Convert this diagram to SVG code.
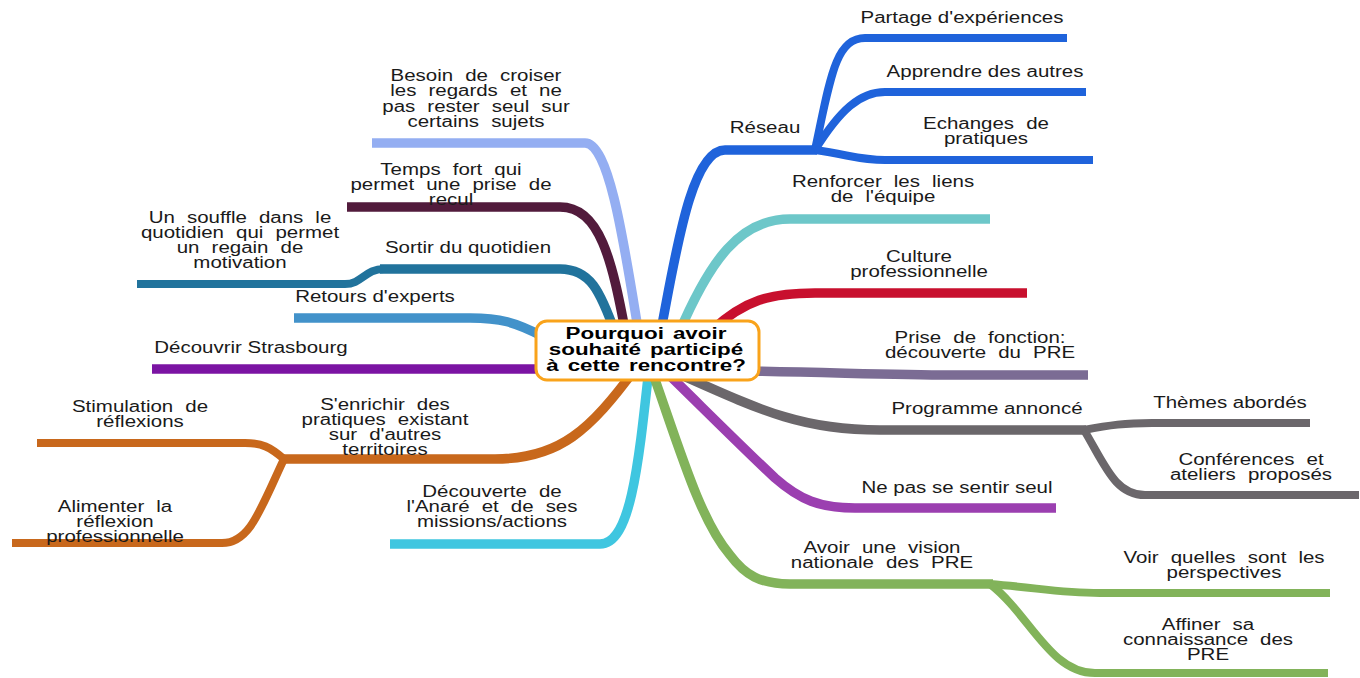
<svg xmlns="http://www.w3.org/2000/svg" width="1360" height="678" viewBox="0 0 1360 678">
<style>
.c{fill:none;stroke-width:9.5;stroke-linecap:butt;stroke-linejoin:round}
.s{stroke-width:8}
.t{font-family:"Liberation Sans",Arial,sans-serif;font-size:16px;fill:#1a1a1a;text-anchor:middle}
.j{word-spacing:5px}
.b{font-weight:bold;fill:#000;word-spacing:2px}
</style>
<rect width="1360" height="678" fill="#fff"/>
<g id="connectors">
<path class="c" stroke="#94AEF2" d="M639,335 C625,250 610,143 585,143 L372,143"/>
<path class="c" stroke="#521B3C" d="M626,335 C612,260 600,207 560,207 L347,207"/>
<path class="c" stroke="#21739C" d="M616,335 C600,290 590,269 560,269 L380,269"/>
<path class="c s" stroke="#21739C" d="M384,269 C365,269 362,284 345,284 L137,284"/>
<path class="c" stroke="#4292CA" d="M542,336 C515,322 500,318 470,318 L294,318"/>
<path class="c" stroke="#7B14A3" d="M542,369 L152,369"/>
<path class="c" stroke="#C8681C" d="M636,368 C590,430 560,459 495,459 L280,459"/>
<path class="c s" stroke="#C8681C" d="M284,459 C270,447 262,443 245,443 L37,443"/>
<path class="c s" stroke="#C8681C" d="M284,459 C260,510 250,543 222,543 L12,543"/>
<path class="c" stroke="#3FC6E0" d="M649,368 C638,470 630,544 600,544 L390,544"/>
<path class="c" stroke="#1F63DB" d="M660,335 C675,260 690,150 725,150 L817,150"/>
<path class="c s" stroke="#1F63DB" d="M815,150 C830,80 835,38 865,38 L1067,38"/>
<path class="c s" stroke="#1F63DB" d="M815,150 C840,110 860,92 885,92 L1086,92"/>
<path class="c s" stroke="#1F63DB" d="M815,150 C850,155 860,160 885,160 L1093,160"/>
<path class="c" stroke="#6DC7C9" d="M678,335 C710,260 740,219 790,219 L990,219"/>
<path class="c" stroke="#C8102E" d="M712,330 C745,300 770,293 815,293 L1027,293"/>
<path class="c" stroke="#7B6C94" d="M750,371 C850,373 900,375 950,375 L1088,375"/>
<path class="c" stroke="#6B676B" d="M670,370 C760,410 800,430 880,430 L1086,430"/>
<path class="c s" stroke="#6B676B" d="M1084,430 C1110,425 1125,423 1152,423 L1310,423"/>
<path class="c s" stroke="#6B676B" d="M1084,430 C1105,465 1115,495 1145,495 L1359,495"/>
<path class="c" stroke="#9B3FB0" d="M662,368 C700,405 745,450 775,478 C800,500 820,508 855,508 L1056,508"/>
<path class="c" stroke="#82B35A" d="M651,368 C680,450 700,520 730,555 C745,575 760,584 790,584 L993,584"/>
<path class="c s" stroke="#82B35A" d="M990,584 C1040,588 1060,593 1100,593 L1330,593"/>
<path class="c s" stroke="#82B35A" d="M990,584 C1030,615 1050,673 1095,673 L1328,673"/>
</g>
<g id="center">
<rect x="536" y="321" width="223" height="59" rx="11" fill="#fff" stroke="#F9A31B" stroke-width="3"/>
<text class="t b" transform="translate(646,339) scale(1.4,1)"><tspan x="0">Pourquoi avoir</tspan><tspan x="0" dy="16">souhaité participé</tspan><tspan x="0" dy="16">à cette rencontre?</tspan></text>
</g>
<g id="n-besoin"><text class="t j" transform="translate(476,81) scale(1.28,1)"><tspan x="0">Besoin de croiser</tspan><tspan x="0" dy="15.3">les regards et ne</tspan><tspan x="0" dy="15.3">pas rester seul sur</tspan><tspan x="0" dy="15.3">certains sujets</tspan></text></g>
<g id="n-temps"><text class="t j" transform="translate(451,175) scale(1.28,1)"><tspan x="0">Temps fort qui</tspan><tspan x="0" dy="15.5">permet une prise de</tspan><tspan x="0" dy="15">recul</tspan></text></g>
<g id="n-souffle"><text class="t j" transform="translate(240,223) scale(1.28,1)"><tspan x="0">Un souffle dans le</tspan><tspan x="0" dy="15.5">quotidien qui permet</tspan><tspan x="0" dy="15">un regain de</tspan><tspan x="0" dy="14.5">motivation</tspan></text></g>
<g id="n-sortir"><text class="t" transform="translate(468,253) scale(1.28,1)">Sortir du quotidien</text></g>
<g id="n-retours"><text class="t" transform="translate(375,302) scale(1.28,1)">Retours d'experts</text></g>
<g id="n-strasbourg"><text class="t" transform="translate(251,353) scale(1.28,1)">Découvrir Strasbourg</text></g>
<g id="n-enrichir"><text class="t j" transform="translate(385,410) scale(1.28,1)"><tspan x="0">S'enrichir des</tspan><tspan x="0" dy="15">pratiques existant</tspan><tspan x="0" dy="15.5">sur d'autres</tspan><tspan x="0" dy="14.5">territoires</tspan></text></g>
<g id="n-stimulation"><text class="t j" transform="translate(140,412) scale(1.28,1)"><tspan x="0">Stimulation de</tspan><tspan x="0" dy="15">réflexions</tspan></text></g>
<g id="n-alimenter"><text class="t j" transform="translate(115,512) scale(1.28,1)"><tspan x="0">Alimenter la</tspan><tspan x="0" dy="15.5">réflexion</tspan><tspan x="0" dy="14.5">professionnelle</tspan></text></g>
<g id="n-anare"><text class="t j" transform="translate(492,497) scale(1.28,1)"><tspan x="0">Découverte de</tspan><tspan x="0" dy="15.5">l'Anaré et de ses</tspan><tspan x="0" dy="15">missions/actions</tspan></text></g>
<g id="n-reseau"><text class="t" transform="translate(765,133) scale(1.28,1)">Réseau</text></g>
<g id="n-partage"><text class="t" transform="translate(962,23) scale(1.28,1)">Partage d'expériences</text></g>
<g id="n-apprendre"><text class="t" transform="translate(985,77) scale(1.28,1)">Apprendre des autres</text></g>
<g id="n-echanges"><text class="t j" transform="translate(986,129) scale(1.28,1)"><tspan x="0">Echanges de</tspan><tspan x="0" dy="14.5">pratiques</tspan></text></g>
<g id="n-renforcer"><text class="t j" transform="translate(883,187) scale(1.28,1)"><tspan x="0">Renforcer les liens</tspan><tspan x="0" dy="15">de l'équipe</tspan></text></g>
<g id="n-culture"><text class="t" transform="translate(919,262) scale(1.28,1)"><tspan x="0">Culture</tspan><tspan x="0" dy="15">professionnelle</tspan></text></g>
<g id="n-prise"><text class="t j" transform="translate(980,343) scale(1.28,1)"><tspan x="0">Prise de fonction:</tspan><tspan x="0" dy="15.5">découverte du PRE</tspan></text></g>
<g id="n-programme"><text class="t" transform="translate(987,414) scale(1.28,1)">Programme annoncé</text></g>
<g id="n-themes"><text class="t" transform="translate(1230,408) scale(1.28,1)">Thèmes abordés</text></g>
<g id="n-conferences"><text class="t j" transform="translate(1251,465) scale(1.28,1)"><tspan x="0">Conférences et</tspan><tspan x="0" dy="15">ateliers proposés</tspan></text></g>
<g id="n-seul"><text class="t" transform="translate(957,493) scale(1.28,1)">Ne pas se sentir seul</text></g>
<g id="n-vision"><text class="t j" transform="translate(882,553) scale(1.28,1)"><tspan x="0">Avoir une vision</tspan><tspan x="0" dy="15">nationale des PRE</tspan></text></g>
<g id="n-voir"><text class="t j" transform="translate(1224,563) scale(1.28,1)"><tspan x="0">Voir quelles sont les</tspan><tspan x="0" dy="14.5">perspectives</tspan></text></g>
<g id="n-affiner"><text class="t j" transform="translate(1208,630) scale(1.28,1)"><tspan x="0">Affiner sa</tspan><tspan x="0" dy="15.5">connaissance des</tspan><tspan x="0" dy="15">PRE</tspan></text></g>
</svg>
